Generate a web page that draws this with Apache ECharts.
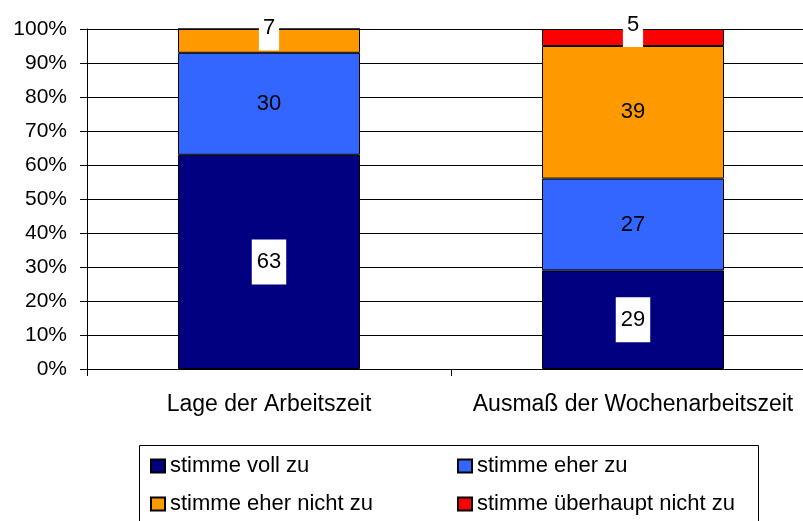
<!DOCTYPE html>
<html>
<head>
<meta charset="utf-8">
<script src="https://cdn.jsdelivr.net/npm/echarts@6/dist/echarts.min.js"></script>
<style>
	html, body { margin: 0; padding: 0; background: #fff; overflow: hidden; }
	#chart { width: 815px; height: 521px; }
</style>
</head>
<body>
<div id="chart"></div>
<script>
// Kategorien und Werte (Prozent)
var categories = ['Lage der Arbeitszeit', 'Ausmaß der Wochenarbeitszeit'];
var seriesNames = ['stimme voll zu', 'stimme eher zu', 'stimme eher nicht zu', 'stimme überhaupt nicht zu'];
var vollZu = [63, 29];
var eherZu = [30, 27];
var eherNichtZu = [7, 39];
var ueberhauptNichtZu = [0, 5];
var yTicks = [0, 10, 20, 30, 40, 50, 60, 70, 80, 90, 100];

var colors = ['#000080', '#3366ff', '#ff9900', '#ff0000'];
var font = 'Liberation Sans, Arial, sans-serif';

// Beschriftung mit weißem Kasten
var boxLabel = {
	show: true,
	color: '#000',
	fontSize: 22,
	fontFamily: font,
	backgroundColor: '#fff',
	padding: [10, 5, 13, 5]
};
// oben liegende Beschriftung (nach oben verschoben)
var topLabel = {
	show: true,
	color: '#000',
	fontSize: 22,
	fontFamily: font,
	backgroundColor: '#fff',
	padding: [10, 4, 13, 4],
	offset: [0, -13]
};
var plainLabel = {
	show: true,
	color: '#000',
	fontSize: 22,
	fontFamily: font
};

function makeData(values, labels) {
	var out = [];
	for (var i = 0; i < values.length; i++) {
		if (values[i] === 0) {
			out.push({ value: values[i], label: { show: false } });
		} else {
			out.push({ value: values[i], label: labels[i] });
		}
	}
	return out;
}

var dataSets = [
	makeData(vollZu, [boxLabel, boxLabel]),
	makeData(eherZu, [plainLabel, plainLabel]),
	makeData(eherNichtZu, [topLabel, plainLabel]),
	makeData(ueberhauptNichtZu, [topLabel, topLabel])
];

var series = [];
for (var s = 0; s < seriesNames.length; s++) {
	series.push({
		name: seriesNames[s],
		type: 'bar',
		stack: 'total',
		barWidth: '50%',
		data: dataSets[s],
		itemStyle: {
			color: colors[s],
			borderColor: '#000',
			borderWidth: 1
		},
		label: { position: 'inside' }
	});
}

var legendText = { color: '#000', fontSize: 22, fontFamily: font };

var myChart = echarts.init(document.getElementById('chart'));
var option = {
	animation: false,
	backgroundColor: '#fff',
	grid: {
		left: 87,
		right: 0,
		top: 29,
		bottom: 152
	},
	xAxis: {
		type: 'category',
		data: categories,
		axisLine: { lineStyle: { color: '#000', width: 1 } },
		axisTick: { show: true, interval: 0, length: 7, lineStyle: { color: '#000' } },
		axisLabel: {
			interval: 0,
			hideOverlap: false,
			color: '#000',
			fontSize: 23,
			fontFamily: font,
			margin: 24
		}
	},
	yAxis: {
		type: 'value',
		min: yTicks[0],
		max: yTicks[yTicks.length - 1],
		interval: 10,
		axisLine: { show: true, lineStyle: { color: '#000', width: 1 } },
		axisTick: { show: true, length: 7, lineStyle: { color: '#000' } },
		axisLabel: {
			color: '#000',
			fontSize: 21,
			fontFamily: font,
			margin: 20,
			formatter: '{value}%'
		},
		splitLine: { lineStyle: { color: '#000', width: 1 } }
	},
	legend: [{
		orient: 'vertical',
		left: 150,
		top: 455,
		height: 66,
		padding: 0,
		itemWidth: 14,
		itemHeight: 13,
		itemGap: 16,
		icon: 'rect',
		data: [seriesNames[0], seriesNames[2]],
		textStyle: legendText
	}, {
		orient: 'vertical',
		left: 457,
		top: 455,
		height: 66,
		padding: 0,
		itemWidth: 14,
		itemHeight: 13,
		itemGap: 16,
		icon: 'rect',
		data: [seriesNames[1], seriesNames[3]],
		textStyle: legendText
	}],
	graphic: [{
		type: 'rect',
		shape: { x: 139.5, y: 445.5, width: 619, height: 90 },
		style: { fill: 'none', stroke: '#000', lineWidth: 1 },
		silent: true
	}],
	series: series
};
myChart.setOption(option);
</script>
</body>
</html>
